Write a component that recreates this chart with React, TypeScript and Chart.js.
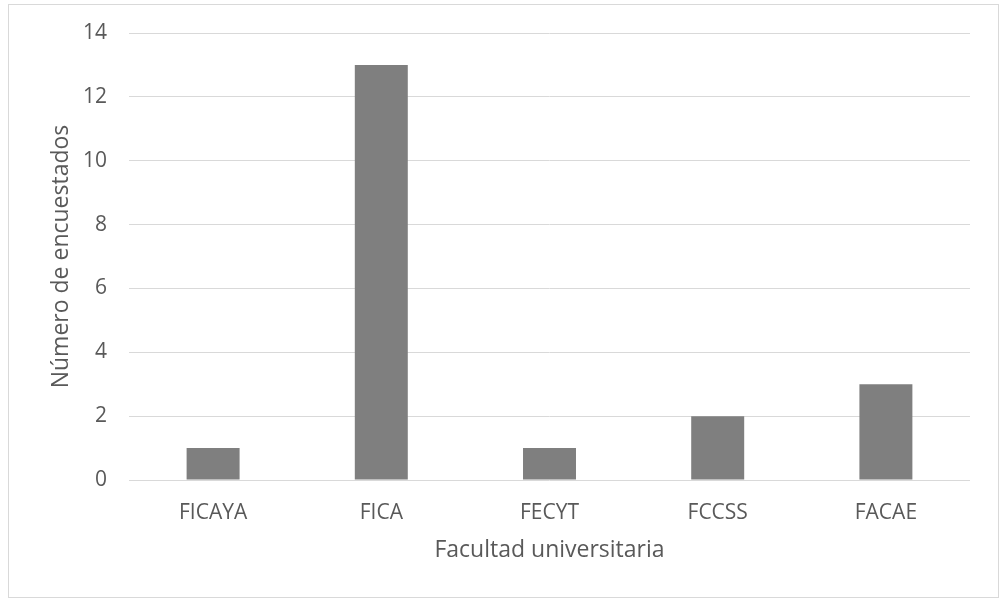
import React, { useEffect, useRef } from "react";
import { Chart, registerables } from "chart.js";

Chart.register(...registerables);

const categories = ["FICAYA", "FICA", "FECYT", "FCCSS", "FACAE"];
const values = [1, 13, 1, 2, 3];
const yMax = 14;
const yStep = 2;
const xTitle = "Facultad universitaria";
const yTitle = "Número de encuestados";

export default function App() {
  const ref = useRef<HTMLCanvasElement | null>(null);

  useEffect(() => {
    if (!ref.current) return;
    const tickFont = { family: "'Open Sans', sans-serif", size: 21 };
    const titleFont = { family: "'Open Sans', sans-serif", size: 23 };
    const chart = new Chart(ref.current, {
      type: "bar",
      data: {
        labels: categories,
        datasets: [
          {
            data: values,
            backgroundColor: "#7f7f7f",
            borderWidth: 0,
            barPercentage: 0.315,
            categoryPercentage: 1,
          },
        ],
      },
      options: {
        animation: false,
        responsive: false,
        maintainAspectRatio: false,
        layout: { padding: { left: 39, top: 28, right: 28, bottom: 33 } },
        plugins: { legend: { display: false }, tooltip: { enabled: false } },
        scales: {
          x: {
            grid: { display: false, drawTicks: false },
            border: { display: false },
            ticks: { color: "#595959", font: tickFont, padding: 20, maxRotation: 0 },
            title: { display: true, text: xTitle, color: "#595959", font: titleFont, padding: 0 },
            afterFit: (s: any) => {
              s.height = 84;
              s.paddingLeft = 0;
              s.paddingRight = 0;
            },
          },
          y: {
            min: 0,
            max: yMax,
            grid: { color: "#d9d9d9", lineWidth: 1, drawTicks: false },
            border: { display: false },
            ticks: { stepSize: yStep, color: "#595959", font: tickFont, padding: 22 },
            title: { display: true, text: yTitle, color: "#595959", font: titleFont, padding: 0 },
            afterFit: (s: any) => {
              s.width = 81;
              s.paddingTop = 0;
              s.paddingBottom = 0;
            },
          },
        },
      },
    });
    return () => chart.destroy();
  }, []);

  return (
    <div
      style={{
        position: "absolute",
        left: 8,
        top: 4,
        width: 989,
        height: 592,
        border: "1px solid #d9d9d9",
        background: "#fff",
      }}
    >
      <canvas ref={ref} width={989} height={592} style={{ display: "block" }} />
    </div>
  );
}
